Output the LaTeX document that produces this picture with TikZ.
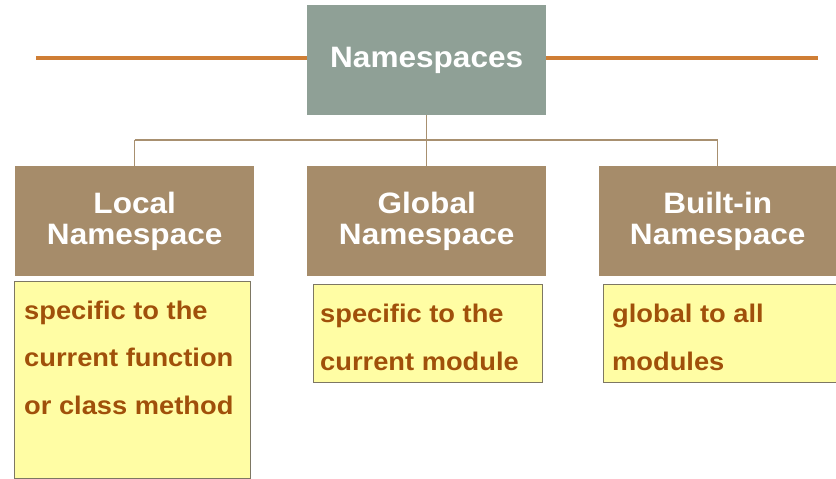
\documentclass[tikz,border=0pt]{standalone}
\usepackage{fontspec}
\setmainfont[FakeStretch=1.07]{Liberation Sans}
\definecolor{topbox}{HTML}{8FA096}
\definecolor{brownbox}{HTML}{A68C6A}
\definecolor{orangeline}{HTML}{CF7E35}
\definecolor{conn}{HTML}{A89070}
\definecolor{yfill}{HTML}{FFFDA4}
\definecolor{yborder}{HTML}{7D7763}
\definecolor{ytext}{HTML}{A0500A}
\tikzset{
  headbox/.style={fill=brownbox, draw=none, anchor=north west, inner sep=0pt},
  headtext/.style={text=white, font=\bfseries\fontsize{29.5}{31}\selectfont, align=center, inner sep=0pt},
  notebox/.style={fill=yfill, draw=yborder, line width=1.3pt, anchor=north west, inner sep=0pt},
  notetext/.style={text=ytext, font=\bfseries\fontsize{25.5}{47.5}\selectfont, align=left, anchor=base west, inner sep=0pt},
  connector/.style={draw=conn, line width=1.5pt},
  rule/.style={draw=orangeline, line width=3.2pt}
}
\begin{document}
\begin{tikzpicture}[x=1pt,y=-1pt]
\clip (0,0) rectangle (836,479);
\useasboundingbox (0,0) rectangle (836,479);
% top box
\node[fill=topbox, anchor=north west, inner sep=0pt, minimum width=239pt, minimum height=110pt] (ns) at (307,5) {};
\node[text=white, font=\bfseries\fontsize{29.5}{30}\selectfont, inner sep=0pt] (nst) at (ns.center) {Namespaces};
% orange rules
\coordinate (rl) at (36,58);
\coordinate (rr) at (818,58);
\draw[rule] (rl) -- (ns.west |- rl);
\draw[rule] (ns.east |- rr) -- (rr);
% heading boxes
\node[headbox, minimum width=239pt, minimum height=110pt] (loc) at (15,166) {};
\node[headbox, minimum width=239pt, minimum height=110pt] (glo) at (307,166) {};
\node[headbox, minimum width=237pt, minimum height=110pt] (bui) at (599,166) {};
\node[headtext] (loct) at (loc.center) {Local\\Namespace};
\node[headtext] (glot) at (glo.center) {Global\\Namespace};
\node[headtext] (buit) at (bui.center) {Built-in\\Namespace};
% connectors
\coordinate (hub) at (ns.south |- 0,140);
\draw[connector] (ns.south) -- (hub);
\draw[connector] (loc.north |- hub) -- (bui.north |- hub);
\draw[connector] (loc.north |- hub) -- (loc.north);
\draw[connector] (hub) -- (glo.north);
\draw[connector] (bui.north |- hub) -- (bui.north);
% note boxes
\node[notebox, minimum width=236pt, minimum height=197pt] (locn) at (14,281) {};
\node[notebox, minimum width=229pt, minimum height=98pt] (glon) at (313,284) {};
\node[notebox, minimum width=250pt, minimum height=98pt] (buin) at (603,284) {};
\node[notetext] (locnt) at (24,414) {specific to the\\current function\\or class method};
\node[notetext] (glont) at (320,370) {specific to the\\current module};
\node[notetext] (buint) at (612,370) {global to all\\modules};
\end{tikzpicture}
\end{document}
